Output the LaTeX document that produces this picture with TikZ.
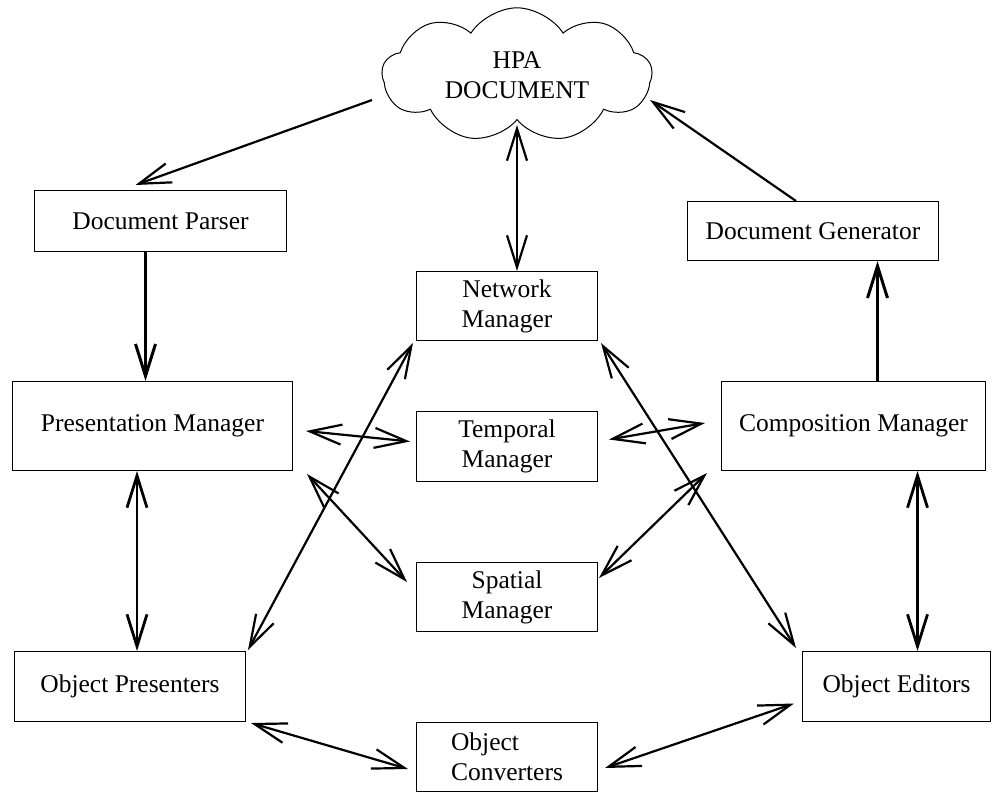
\documentclass[tikz,border=0pt]{standalone}
\usepackage{fontspec}
\setmainfont{Liberation Serif}
\usetikzlibrary{arrows.meta,positioning,shapes.symbols,calc}

\begin{document}
\begin{tikzpicture}[
  x=1pt,y=-1pt,
  font=\fontsize{25.5}{30}\selectfont,
  box/.style ={rectangle,draw,line width=1pt,anchor=north west,
               inner sep=0pt,align=center},
  cld/.style ={cloud,draw,line width=1pt,cloud puffs=9,cloud puff arc=115,
               aspect=2,minimum width=270pt,minimum height=134pt,
               align=center,inner sep=0pt},
  arr/.style ={-{Straight Barb[length=32pt,width=20pt]},line width=2.2pt},
  dbl/.style ={{Straight Barb[length=32pt,width=20pt]}-{Straight Barb[length=32pt,width=20pt]},
               line width=2.2pt}
]
\useasboundingbox[fill=white](0,0) rectangle (992,792);

\node[cld](doc) at (517,75){HPA\\DOCUMENT};

\node[box,minimum width=252pt,minimum height=61pt](pars) at (34,190){Document Parser};
\node[box,minimum width=251pt,minimum height=59pt](gen) at (687,201){Document Generator};
\node[box,minimum width=280pt,minimum height=89pt](pres) at (12,381){Presentation Manager};
\node[box,minimum width=264pt,minimum height=89pt](comp) at (721,381){Composition Manager};

\node[box,minimum width=181pt,minimum height=69pt](netw) at (416,271){Network\\Manager};
\node[box,minimum width=181pt,minimum height=70pt](temp) at (416,411){Temporal\\Manager};
\node[box,minimum width=181pt,minimum height=69pt](spat) at (416,562){Spatial\\Manager};

\node[box,minimum width=231pt,minimum height=70pt](opres) at (14,651){Object Presenters};
\node[box,minimum width=181pt,minimum height=69pt,align=left](conv) at (416,722){Object\\Converters};
\node[box,minimum width=188pt,minimum height=70pt](edit) at (802,651){Object Editors};

% document in / out
\draw[arr]($(doc.center)+(-145,25)$)--($(pars.north)+(-25,-5)$);
\draw[arr]($(gen.north)+(-17,0)$)--($(doc.center)+(133,25)$);
\draw[dbl]($(netw.north)+(10,0)$)--($(doc.center)+(0,50)$);
\draw[arr,line width=3pt]($(pars.south)+(-15,0)$) coordinate (p1)--(p1 |- pres.north);
\draw[arr,line width=3pt]($(comp.north)+(24,0)$) coordinate (c1)--(c1 |- gen.south);

% managers
\draw[dbl]($(pres.east)+(13,5)$)--($(temp.west)+(-6,-5)$);
\draw[dbl]($(temp.east)+(11,-7)$)--($(comp.west)+(-16,-3)$);
\draw[dbl]($(pres.south east)+(14,3)$)--($(spat.north west)+(-9,20)$);
\draw[dbl]($(comp.south west)+(-14,2)$)--($(spat.north east)+(1,16)$);
\draw[dbl]($(opres.north east)+(2,-1)$)--($(netw.south west)+(-3,2)$);
\draw[dbl]($(netw.south east)+(3,2)$)--($(edit.north west)+(-6,-3)$);
\draw[dbl,line width=2.8pt]($(opres.north)+(7,0)$) coordinate (o1)--(o1 |- pres.south);
\draw[dbl,line width=2.8pt]($(edit.north)+(21,0)$) coordinate (e1)--(e1 |- comp.south);

% objects
\draw[dbl]($(opres.south east)+(5,1)$)--($(conv.west)+(-8,12)$);
\draw[dbl]($(conv.east)+(7,11)$)--($(edit.west)+(-8,17)$);
\end{tikzpicture}
\end{document}
